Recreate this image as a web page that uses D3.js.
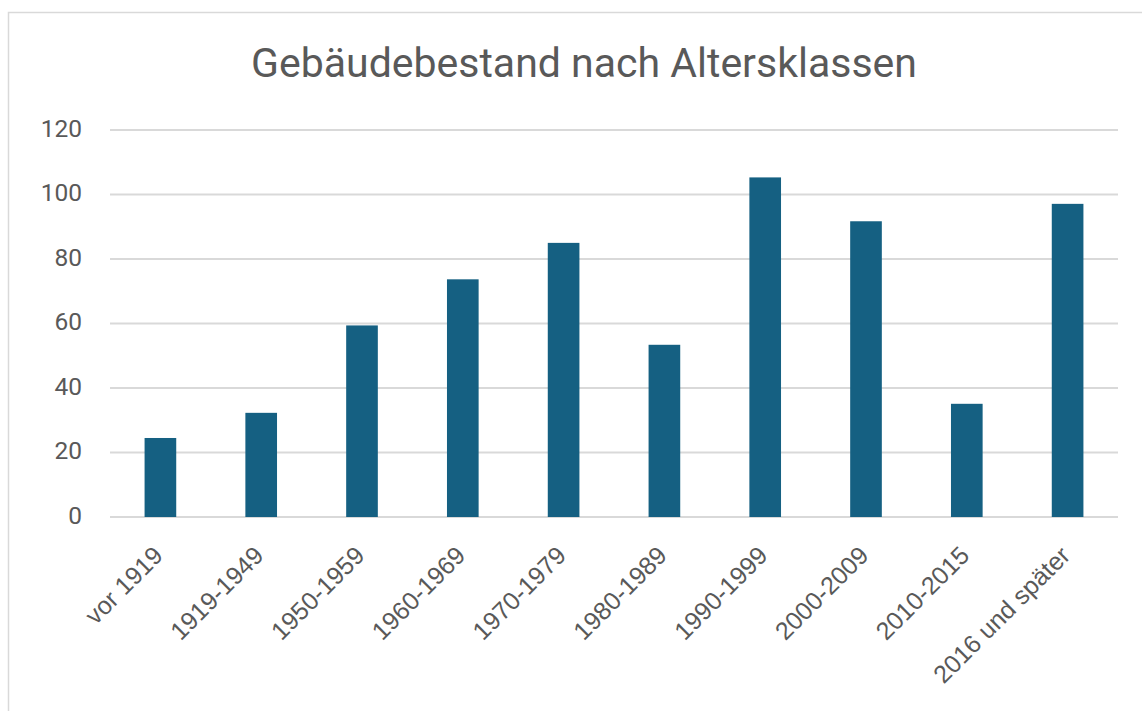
<!DOCTYPE html>
<html>
<head>
<meta charset="utf-8">
<script src="https://cdn.jsdelivr.net/npm/d3@7"></script>
<style>
  body { margin: 0; background: #fff; }
  svg { display: block; font-family: Roboto, "Liberation Sans", sans-serif; }
</style>
</head>
<body>
<svg id="chart"></svg>
<script>
const title = "Gebäudebestand nach Altersklassen";
const categories = ["vor 1919", "1919-1949", "1950-1959", "1960-1969", "1970-1979",
    "1980-1989", "1990-1999", "2000-2009", "2010-2015", "2016 und später"];
const values = [24.5, 32.3, 59.4, 73.7, 85.0, 53.4, 105.3, 91.7, 35.1, 97.1];
const yTicks = [0, 20, 40, 60, 80, 100, 120];

const W = 1142, H = 711;
const margin = { top: 130, right: 24, bottom: 194, left: 110 };
const width = W - margin.left - margin.right,
    height = H - margin.top - margin.bottom;

const svg = d3.select("#chart").attr("width", W).attr("height", H);

// chart area border (only top and left visible in the crop)
svg.append("path")
    .attr("d", `M8.5,${H} V12.5 H${W}`)
    .attr("fill", "none")
    .attr("stroke", "#d9d9d9")
    .attr("stroke-width", 1.5);

svg.append("text")
    .attr("x", 584)
    .attr("y", 77)
    .attr("text-anchor", "middle")
    .attr("font-size", 41)
    .attr("fill", "#595959")
    .text(title);

const g = svg.append("g").attr("transform", `translate(${margin.left},${margin.top})`);

const x = d3.scaleBand().domain(categories).range([0, width]).paddingInner(0.686).paddingOuter(0.343);
const y = d3.scaleLinear().domain([0, 120]).range([height, 0]);

// grid
g.append("g")
    .selectAll("line")
    .data(yTicks)
    .join("line")
    .attr("x1", 0)
    .attr("x2", width)
    .attr("y1", d => y(d))
    .attr("y2", d => y(d))
    .attr("stroke", "#d9d9d9")
    .attr("stroke-width", 2);

// y axis labels
const gy = g.append("g")
    .call(d3.axisLeft(y).tickValues(yTicks).tickSize(0).tickPadding(28));
gy.select(".domain").remove();
gy.selectAll("text")
    .attr("font-size", 24.5)
    .attr("font-family", "Roboto, sans-serif")
    .attr("fill", "#595959")
    .attr("dy", "0.25em");

// bars
g.append("g")
    .selectAll("rect")
    .data(values)
    .join("rect")
    .attr("x", (d, i) => x(categories[i]))
    .attr("width", x.bandwidth())
    .attr("y", d => y(d))
    .attr("height", d => y(0) - y(d))
    .attr("fill", "#156082");

// x axis labels, rotated
const band = d3.scaleBand().domain(categories).range([0, width]);
const gx = g.append("g")
    .attr("transform", `translate(0,${height})`)
    .call(d3.axisBottom(band).tickSize(0).tickPadding(0));
gx.select(".domain").remove();
gx.selectAll("text")
    .attr("font-size", 25)
    .attr("font-family", "'Liberation Sans', Arial, sans-serif")
    .attr("fill", "#595959")
    .attr("text-anchor", "end")
    .attr("y", 0)
    .attr("dy", 0)
    .attr("transform", "translate(4,40) rotate(-45)");
</script>
</body>
</html>
